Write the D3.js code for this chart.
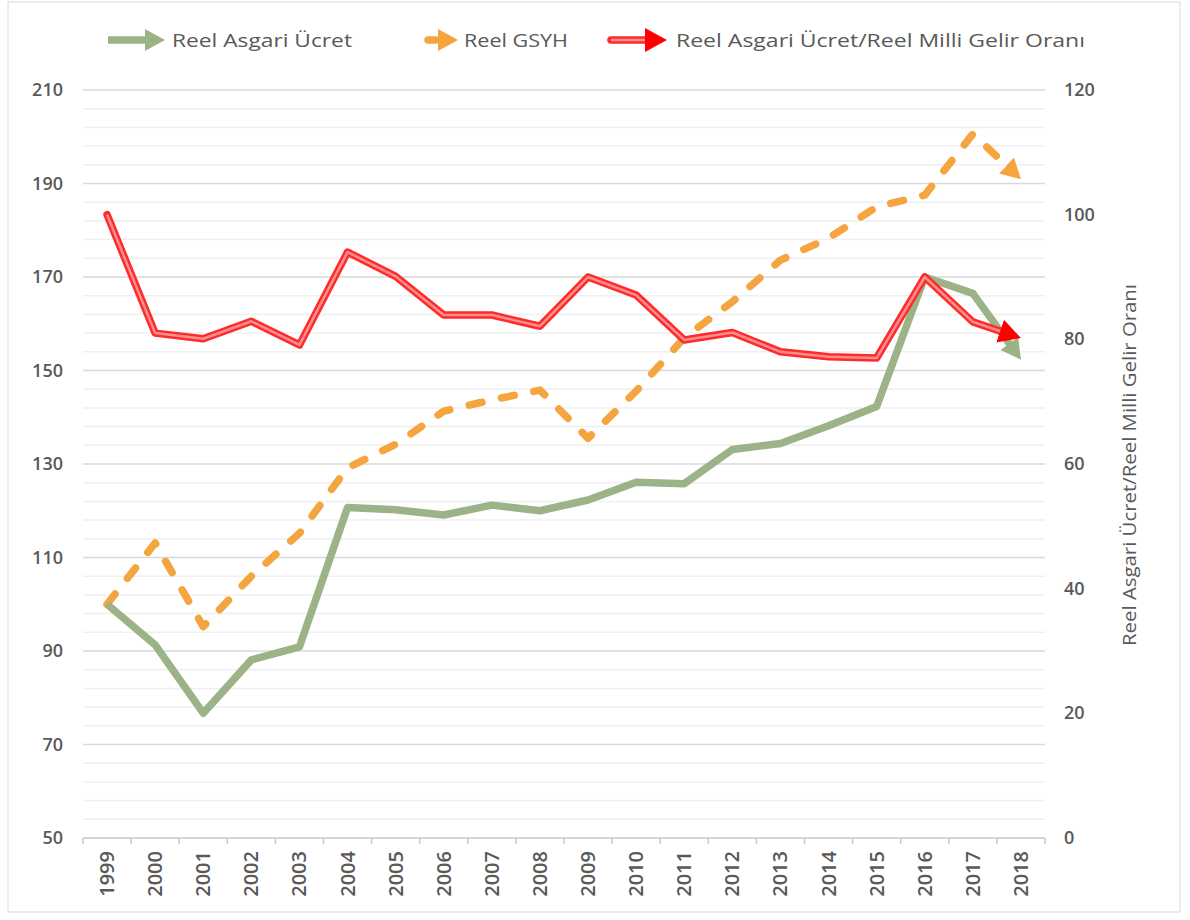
<!DOCTYPE html>
<html>
<head>
<meta charset="utf-8">
<script src="https://cdn.jsdelivr.net/npm/d3@7"></script>
<style>
  body { margin: 0; background: #fff; }
  svg text { font-family: "Open Sans", "DejaVu Sans", sans-serif; fill: #595959; }
</style>
</head>
<body>
<svg id="chart" width="1190" height="920"></svg>
<script>
var years = ["1999", "2000", "2001", "2002", "2003", "2004", "2005", "2006", "2007", "2008",
             "2009", "2010", "2011", "2012", "2013", "2014", "2015", "2016", "2017", "2018"];
// left axis
var asgariUcret = [100, 91.3, 76.7, 88.1, 90.9, 120.7, 120.2, 119.1, 121.2, 120,
                   122.3, 126.1, 125.8, 133.1, 134.4, 138.2, 142.3, 170, 166.5, 152.3];
var gsyh = [100, 113.1, 95.2, 106, 115.2, 129.2, 134.2, 141.3, 143.7, 145.8,
            135.5, 145.6, 157, 164.7, 173.6, 178.3, 185, 187.5, 200.6, 190.9];
// right axis
var oran = [100, 81, 80.1, 82.9, 79.1, 94, 90.1, 83.9, 83.9, 82.1,
            90, 87.1, 79.9, 81.1, 78, 77.2, 77, 90, 82.8, 80.2];
var leftTicks = [50, 70, 90, 110, 130, 150, 170, 190, 210];
var rightTicks = [0, 20, 40, 60, 80, 100, 120];

var svg = d3.select("#chart");

// chart border
svg.append("rect")
    .attr("x", 8).attr("y", 2).attr("width", 1172).attr("height", 910)
    .attr("fill", "none").attr("stroke", "#d9d9d9");

var x = d3.scaleBand().domain(years).range([83, 1045]);
var yL = d3.scaleLinear().domain([50, 210]).range([838, 90]);
var yR = d3.scaleLinear().domain([0, 120]).range([838, 90]);
var cx = function (d) { return x(d) + x.bandwidth() / 2; };

// gridlines (minor every 4, major every 20)
svg.append("g").selectAll("line")
    .data(d3.range(54, 211, 4))
    .enter()
    .append("line")
    .attr("x1", 83).attr("x2", 1045)
    .attr("y1", function (d) { return yL(d); })
    .attr("y2", function (d) { return yL(d); })
    .attr("stroke", function (d) { return (d - 50) % 20 === 0 ? "#d9d9d9" : "#efefef"; })
    .attr("stroke-width", 1.5);

// bottom axis
var xAxis = svg.append("g");
xAxis.append("line")
    .attr("x1", 83).attr("x2", 1045).attr("y1", 838).attr("y2", 838)
    .attr("stroke", "#c8c8c8").attr("stroke-width", 1.5);
xAxis.selectAll("line.tick")
    .data(years.concat(["end"]))
    .enter()
    .append("line")
    .attr("class", "tick")
    .attr("x1", function (d, i) { return 83 + i * x.step(); })
    .attr("x2", function (d, i) { return 83 + i * x.step(); })
    .attr("y1", 838).attr("y2", 844)
    .attr("stroke", "#c8c8c8").attr("stroke-width", 1.5);
xAxis.selectAll("text")
    .data(years)
    .enter()
    .append("text")
    .attr("transform", function (d) { return "translate(" + (cx(d) + 7) + ",851) rotate(-90)"; })
    .attr("text-anchor", "end")
    .style("font-size", "20px")
    .style("font-weight", 600)
    .text(function (d) { return d; });

// y axis labels
svg.append("g").selectAll("text")
    .data(leftTicks)
    .enter()
    .append("text")
    .attr("x", 63)
    .attr("y", function (d) { return yL(d) + 6; })
    .attr("text-anchor", "end")
    .style("font-size", "18px")
    .style("font-weight", 600)
    .text(function (d) { return d; });

svg.append("g").selectAll("text")
    .data(rightTicks)
    .enter()
    .append("text")
    .attr("x", 1064)
    .attr("y", function (d) { return yR(d) + 6; })
    .style("font-size", "18px")
    .style("font-weight", 600)
    .text(function (d) { return d; });

svg.append("text")
    .attr("transform", "translate(1136,465) rotate(-90)")
    .attr("text-anchor", "middle")
    .attr("textLength", 362)
    .attr("lengthAdjust", "spacingAndGlyphs")
    .style("font-size", "18px")
    .text("Reel Asgari Ücret/Reel Milli Gelir Oranı");

// arrow markers
var defs = svg.append("defs");
function marker(id, color, len, wid) {
    defs.append("marker")
        .attr("id", id)
        .attr("markerUnits", "userSpaceOnUse")
        .attr("viewBox", "0 0 " + len + " " + wid)
        .attr("markerWidth", len).attr("markerHeight", wid)
        .attr("refX", len).attr("refY", wid / 2)
        .attr("orient", "auto")
        .append("path")
        .attr("d", "M0,0L" + len + "," + (wid / 2) + "L0," + wid + "Z")
        .attr("fill", color);
}
marker("arrGreen", "#9bb387", 20, 22);
marker("arrOrange", "#f5a540", 20, 22);
marker("arrRed", "#ff0000", 22, 24);

var green = "#9bb387", orange = "#f5a540";

function trimmed(vals, scale, cut) {
    // pull the last point back so the arrowhead tip lands on the data point
    var pts = vals.map(function (v, i) { return [cx(years[i]), scale(v)]; });
    var a = pts[pts.length - 2], b = pts[pts.length - 1];
    var dx = b[0] - a[0], dy = b[1] - a[1], l = Math.sqrt(dx * dx + dy * dy);
    var end = [b[0] - dx / l * cut, b[1] - dy / l * cut];
    return { line: pts.slice(0, -1).concat([end]), full: pts };
}
var lineGen = d3.line();

// Reel GSYH
var g1 = trimmed(gsyh, yL, 18);
svg.append("path")
    .attr("d", lineGen(g1.line))
    .attr("fill", "none").attr("stroke", orange).attr("stroke-width", 7.5)
    .attr("stroke-dasharray", "13,20").attr("stroke-linecap", "round")
    .attr("stroke-linejoin", "round");
svg.append("path")
    .attr("d", lineGen(g1.full.slice(-2)))
    .attr("fill", "none").attr("stroke", "none")
    .attr("marker-end", "url(#arrOrange)");

// Reel Asgari Ücret
var g2 = trimmed(asgariUcret, yL, 18);
svg.append("path")
    .attr("d", lineGen(g2.line))
    .attr("fill", "none").attr("stroke", green).attr("stroke-width", 7.5)
    .attr("stroke-linejoin", "round");
svg.append("path")
    .attr("d", lineGen(g2.full.slice(-2)))
    .attr("fill", "none").attr("stroke", "none")
    .attr("marker-end", "url(#arrGreen)");

// Oran
var g3 = trimmed(oran, yR, 20);
svg.append("path")
    .attr("d", lineGen(g3.line))
    .attr("fill", "none").attr("stroke", "#ff2a2a").attr("stroke-width", 7.5)
    .attr("stroke-linejoin", "round").attr("stroke-linecap", "round");
svg.append("path")
    .attr("d", lineGen(g3.line))
    .attr("fill", "none").attr("stroke", "#ff8e8e").attr("stroke-width", 2.5)
    .attr("stroke-linejoin", "round");
svg.append("path")
    .attr("d", lineGen(g3.full.slice(-2)))
    .attr("fill", "none").attr("stroke", "none")
    .attr("marker-end", "url(#arrRed)");

// legend
var legend = svg.append("g");
legend.append("line")
    .attr("x1", 108).attr("x2", 150).attr("y1", 40).attr("y2", 40)
    .attr("stroke", green).attr("stroke-width", 7.5);
legend.append("path").attr("d", "M145,40L165,40").attr("stroke", "none")
    .attr("marker-end", "url(#arrGreen)");
legend.append("text").attr("x", 172).attr("y", 47)
    .attr("textLength", 180).attr("lengthAdjust", "spacingAndGlyphs")
    .style("font-size", "19px").text("Reel Asgari Ücret");

legend.append("line")
    .attr("x1", 428).attr("x2", 436).attr("y1", 40).attr("y2", 40)
    .attr("stroke", orange).attr("stroke-width", 7.5).attr("stroke-linecap", "round");
legend.append("path").attr("d", "M440,40L458,40").attr("stroke", "none")
    .attr("marker-end", "url(#arrOrange)");
legend.append("text").attr("x", 464).attr("y", 47)
    .attr("textLength", 104).attr("lengthAdjust", "spacingAndGlyphs")
    .style("font-size", "19px").text("Reel GSYH");

legend.append("line")
    .attr("x1", 611).attr("x2", 648).attr("y1", 40).attr("y2", 40)
    .attr("stroke", "#ff2a2a").attr("stroke-width", 7.5).attr("stroke-linecap", "round");
legend.append("line")
    .attr("x1", 611).attr("x2", 648).attr("y1", 40).attr("y2", 40)
    .attr("stroke", "#ff8e8e").attr("stroke-width", 2.5);
legend.append("path").attr("d", "M645,40L667,40").attr("stroke", "none")
    .attr("marker-end", "url(#arrRed)");
legend.append("text").attr("x", 676).attr("y", 47)
    .attr("textLength", 409).attr("lengthAdjust", "spacingAndGlyphs")
    .style("font-size", "19px").text("Reel Asgari Ücret/Reel Milli Gelir Oranı");
</script>
</body>
</html>
